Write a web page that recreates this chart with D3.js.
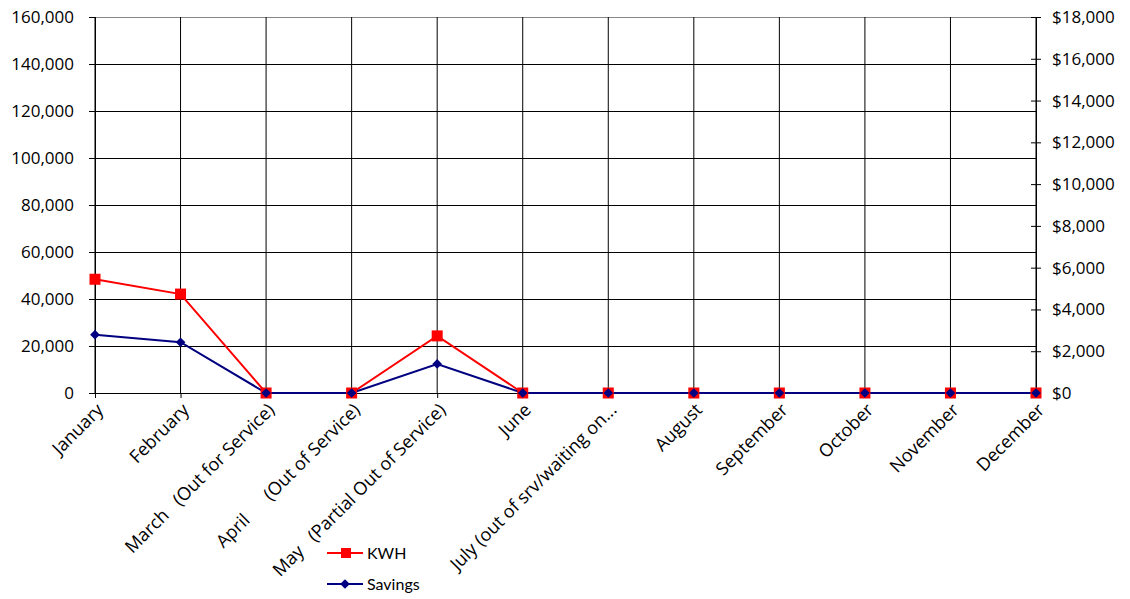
<!DOCTYPE html>
<html>
<head>
<meta charset="utf-8">
<script src="https://cdn.jsdelivr.net/npm/d3@7"></script>
<style>
  html, body { margin: 0; padding: 0; background: #fff; }
  svg { display: block; }
  text { font-family: "Open Sans", "Noto Sans", sans-serif; fill: #000; }
</style>
</head>
<body>
<svg id="chart" width="1130" height="599"></svg>
<script>
// Monthly categories (some months carry service notes)
const months = [
  "January", "February", "March   (Out for Service)", "April      (Out of Service)",
  "May   (Partial Out of Service)", "June", "July (out of srv/waiting on...",
  "August", "September", "October", "November", "December"
];
// Energy produced (kWh) per month
const kwh = [48400, 42100, 0, 0, 24300, 0, 0, 0, 0, 0, 0, 0];
// Dollar savings per month
const savings = [2790, 2430, 0, 0, 1390, 0, 0, 0, 0, 0, 0, 0];
// Axis tick values
const kwhTicks = [0, 20000, 40000, 60000, 80000, 100000, 120000, 140000, 160000];
const savingsTicks = [0, 2000, 4000, 6000, 8000, 10000, 12000, 14000, 16000, 18000];

const svg = d3.select("#chart");
const plotLeft = 95, plotRight = 1036, plotTop = 17, plotBottom = 393;

const x = d3.scalePoint().domain(months).range([plotLeft, plotRight]).padding(0);
const yL = d3.scaleLinear().domain([0, 160000]).range([plotBottom, plotTop]);
const yR = d3.scaleLinear().domain([0, 18000]).range([plotBottom, plotTop]);

// Horizontal gridlines from the kWh axis
svg.append("g").selectAll("line").data(kwhTicks.slice(1)).join("line")
  .attr("x1", plotLeft).attr("x2", plotRight)
  .attr("y1", d => Math.round(yL(d)) + 0.5).attr("y2", d => Math.round(yL(d)) + 0.5)
  .attr("stroke", d => d === 160000 ? "#888" : "#000").attr("stroke-width", 1);

// Vertical gridlines at each month
svg.append("g").selectAll("line").data(months).join("line")
  .attr("x1", d => x(d)).attr("x2", d => x(d))
  .attr("y1", plotTop).attr("y2", plotBottom)
  .attr("stroke", "#000").attr("stroke-width", 1);

// Left axis (kWh)
const axL = svg.append("g").attr("transform", `translate(${plotLeft},0)`)
  .call(d3.axisLeft(yL).tickValues(kwhTicks).tickFormat(d3.format(",")).tickSize(6).tickPadding(15));
axL.select(".domain").attr("stroke", "#000").attr("d", `M0.5,${plotTop}V${plotBottom}`);
axL.selectAll(".tick line").attr("stroke", "#000");
axL.selectAll("text").style("font-size", "17px").attr("fill", "#000");

// Right axis (savings) with ticks crossing the axis line
const axR = svg.append("g").attr("transform", `translate(${plotRight},0)`)
  .call(d3.axisRight(yR).tickValues(savingsTicks).tickFormat(d => "$" + d3.format(",")(d)).tickSize(5).tickPadding(11));
axR.select(".domain").attr("stroke", "#000").attr("d", `M0.5,${plotTop}V${plotBottom}`);
axR.selectAll(".tick line").attr("stroke", "#000").attr("x1", -5);
axR.selectAll("text").style("font-size", "17px").attr("fill", "#000");

// Bottom axis with rotated month labels
const axB = svg.append("g").attr("transform", `translate(0,${plotBottom})`)
  .call(d3.axisBottom(x).tickSize(5).tickSizeOuter(0));
axB.select(".domain").attr("stroke", "#000").attr("d", `M${plotLeft},0.5H${plotRight}`);
axB.selectAll(".tick line").attr("stroke", "#000");
axB.selectAll("text")
  .style("font-size", "18px").attr("fill", "#000")
  .attr("xml:space", "preserve").style("white-space", "pre")
  .attr("text-anchor", "end")
  .attr("x", 0).attr("y", 0).attr("dy", "0")
  .attr("transform", "translate(9,18) rotate(-45)");

// Series lines
const lineL = d3.line().x((d, i) => x(months[i])).y(d => yL(d));
const lineR = d3.line().x((d, i) => x(months[i])).y(d => yR(d));

svg.append("path").datum(kwh).attr("d", lineL)
  .attr("fill", "none").attr("stroke", "#ff0000").attr("stroke-width", 2);
svg.append("path").datum(savings).attr("d", lineR)
  .attr("fill", "none").attr("stroke", "#000080").attr("stroke-width", 2);

// Markers: red squares for kWh, navy diamonds for savings
svg.append("g").selectAll("rect").data(kwh).join("rect")
  .attr("x", (d, i) => x(months[i]) - 5.5).attr("y", d => yL(d) - 5.5)
  .attr("width", 11).attr("height", 11).attr("fill", "#ff0000");
const diamond = d3.symbol().type(d3.symbolDiamond2).size(60);
svg.append("g").selectAll("path").data(savings).join("path")
  .attr("d", diamond)
  .attr("transform", (d, i) => `translate(${x(months[i])},${yR(d)})`)
  .attr("fill", "#000080");

// Legend
const legend = svg.append("g").attr("transform", "translate(327,0)");
const items = [
  { name: "KWH", color: "#ff0000", shape: "square", y: 553 },
  { name: "Savings", color: "#000080", shape: "diamond", y: 584 }
];
items.forEach(it => {
  legend.append("line").attr("x1", 0).attr("x2", 36).attr("y1", it.y).attr("y2", it.y)
    .attr("stroke", it.color).attr("stroke-width", 2);
  if (it.shape === "square") {
    legend.append("rect").attr("x", 14).attr("y", it.y - 5).attr("width", 10).attr("height", 10).attr("fill", it.color);
  } else {
    legend.append("path").attr("d", diamond).attr("transform", `translate(18,${it.y})`).attr("fill", it.color);
  }
  legend.append("text").attr("x", 40).attr("y", it.y).attr("dy", "0.35em")
    .style("font-family", "Lato, 'Liberation Sans', sans-serif").style("font-size", "16px").text(it.name);
});
</script>
</body>
</html>
